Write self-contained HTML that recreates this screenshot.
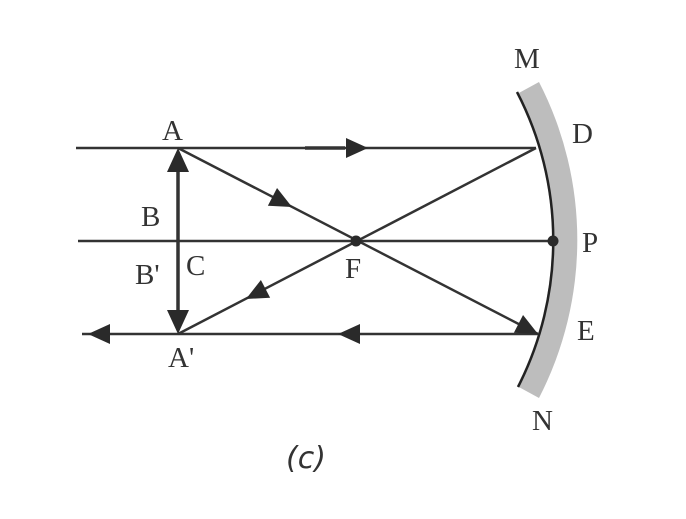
<!DOCTYPE html>
<html><head><style>
body{margin:0;background:#fff;}
svg{display:block;}
text{font-family:"Liberation Serif",serif;fill:#333;font-size:29px;}
</style></head><body>
<svg width="686" height="519" viewBox="0 0 686 519">
<path d="M 539 82 A 345 345 0 0 1 539 398 L 517 386 A 322 322 0 0 0 517 94 Z" fill="#bdbdbd"/>
<path d="M 517 92 A 322 322 0 0 1 518 387" fill="none" stroke="#222" stroke-width="2.5"/>
<g stroke="#333" stroke-width="2.5" fill="none">
<line x1="76" y1="148" x2="536" y2="148"/>
<line x1="78" y1="241" x2="553" y2="241"/>
<line x1="82" y1="334" x2="538" y2="334"/>
<line x1="178" y1="148" x2="538" y2="334"/>
<line x1="536" y1="148" x2="178" y2="334"/>
<line x1="178" y1="165" x2="178" y2="318" stroke-width="3.5"/>
<line x1="305" y1="148" x2="345" y2="148" stroke-width="3.5"/>
</g>
<g fill="#2a2a2a">
<polygon points="0,0 -22,-10 -22,10" transform="translate(368,148)"/>
<polygon points="0,0 -22,-10 -22,10" transform="translate(338,334) rotate(180)"/>
<polygon points="0,0 -22,-10 -22,10" transform="translate(88,334) rotate(180)"/>
<polygon points="0,0 -22,-10 -22,10" transform="translate(292,207) rotate(27.3)"/>
<polygon points="0,0 -22,-10 -22,10" transform="translate(538,334) rotate(27.3)"/>
<polygon points="0,0 -22,-10 -22,10" transform="translate(246,299) rotate(152.5)"/>
<polygon points="0,0 -24,-11 -24,11" transform="translate(178,148) rotate(-90)"/>
<polygon points="0,0 -24,-11 -24,11" transform="translate(178,334) rotate(90)"/>
<circle cx="356" cy="241" r="5.5"/>
<circle cx="553" cy="241" r="5.5"/>
</g>
<text x="162" y="140">A</text>
<text x="141" y="226">B</text>
<text x="186" y="275">C</text>
<text x="135" y="284">B'</text>
<text x="345" y="278">F</text>
<text x="168" y="367">A'</text>
<text x="514" y="68">M</text>
<text x="572" y="143">D</text>
<text x="582" y="252">P</text>
<text x="577" y="340">E</text>
<text x="532" y="430">N</text>
<text x="286" y="468" style="font-family:'DejaVu Sans',sans-serif;font-style:italic;font-size:30px">(c)</text>
</svg>
</body></html>
